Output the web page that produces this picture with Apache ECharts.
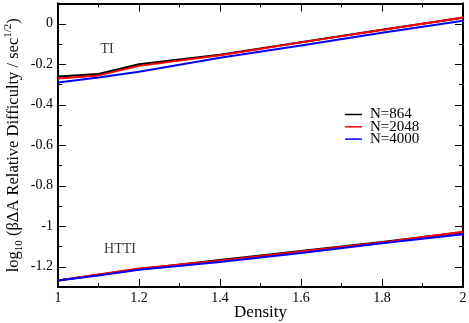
<!DOCTYPE html>
<html><head><meta charset="utf-8">
<script src="https://cdn.jsdelivr.net/npm/echarts@6/dist/echarts.min.js"></script>
<style>html,body{margin:0;padding:0;background:#fff}#c{width:469px;height:323px}</style>
</head><body><div id="c"></div>
<script>
var density = [1.0, 1.1, 1.2, 1.4, 1.6, 1.8, 2.0];
var ti864  = [-0.261, -0.248, -0.200, -0.153, -0.091, -0.030, 0.030];
var ti2048 = [-0.270, -0.255, -0.208, -0.155, -0.092, -0.031, 0.031];
var ti4000 = [-0.290, -0.265, -0.237, -0.168, -0.107, -0.045, 0.015];
var htti864  = [-1.268, -1.240, -1.212, -1.167, -1.122, -1.078, -1.030];
var htti2048 = [-1.268, -1.238, -1.209, -1.170, -1.125, -1.080, -1.027];
var htti4000 = [-1.268, -1.243, -1.215, -1.177, -1.132, -1.084, -1.040];
var seriesNames = ['N=864', 'N=2048', 'N=4000'];
var colors = ['#000000', '#ff0000', '#0000ff'];
var yTicks = [-1.2, -1.0, -0.8, -0.6, -0.4, -0.2, 0];
var yMinor = [-1.3, -1.1, -0.9, -0.7, -0.5, -0.3, -0.1, 0.1];
var xTicks = [1, 1.2, 1.4, 1.6, 1.8, 2];
var annotations = [['TI', 1.121, -0.127], ['HTTI', 1.153, -1.112]];

var font = 'Liberation Serif';
function pairs(ys) { return density.map(function (d, i) { return [d, ys[i]]; }); }
function fmt(v) { var r = Math.round(v * 10) / 10; return r === 0 ? '0' : String(r); }

var grid = { left: 58, right: 6, top: 3.5, bottom: 36, containLabel: false, outerBoundsMode: 'none' };
function yAx(pos, vals, len, labels, name) {
  var a = {
    type: 'value', position: pos, min: -1.3, max: 0.1,
    axisLine: { show: true, onZero: false, lineStyle: { color: '#000', width: 2 } },
    axisTick: { show: true, inside: true, length: len, customValues: vals, lineStyle: { color: '#000', width: 1 } },
    axisLabel: labels ? { show: true, customValues: vals, formatter: fmt, fontFamily: font, fontSize: 14, color: '#000', margin: 5 } : { show: false },
    splitLine: { show: false }
  };
  if (name) {
    a.name = name; a.nameLocation = 'middle'; a.nameGap = 33; a.nameRotate = 90; a.nameMoveOverlap = false;
    a.nameTextStyle = {
      fontFamily: font, fontSize: 16.5, color: '#000',
      rich: {
        a: { fontFamily: font, fontSize: 16.5, color: '#000', lineHeight: 22 },
        sub: { fontFamily: font, fontSize: 11, color: '#000', lineHeight: 22, verticalAlign: 'bottom' },
        sup: { fontFamily: font, fontSize: 11, color: '#000', lineHeight: 22, verticalAlign: 'top' }
      }
    };
  }
  return a;
}
function xAx(pos, labels, name) {
  var a = {
    type: 'value', position: pos, min: 1, max: 2, interval: 0.2,
    axisLine: { show: true, onZero: false, lineStyle: { color: '#000', width: 2 } },
    axisTick: { show: true, inside: true, length: 8, lineStyle: { color: '#000', width: 1 } },
    minorTick: { show: true, splitNumber: 2, length: 4, lineStyle: { color: '#000', width: 1 } },
    axisLabel: labels ? { show: true, formatter: function (v) { return String(Math.round(v * 10) / 10); }, fontFamily: font, fontSize: 14, color: '#000', margin: 4 } : { show: false },
    splitLine: { show: false }
  };
  if (name) {
    a.name = name; a.nameLocation = 'middle'; a.nameGap = 17; a.nameMoveOverlap = false;
    a.nameTextStyle = { fontFamily: font, fontSize: 17, color: '#000' };
  }
  return a;
}

var series = [];
var groups = [[ti864, ti2048, ti4000], [htti864, htti2048, htti4000]];
groups.forEach(function (g) {
  g.forEach(function (ys, k) {
    series.push({
      type: 'line', name: seriesNames[k], data: pairs(ys), xAxisIndex: 0, yAxisIndex: 0,
      symbol: 'none', smooth: false, lineStyle: { color: colors[k], width: 2 }, itemStyle: { color: colors[k] },
      animation: false
    });
  });
});
series.push({
  type: 'scatter', name: 'labels', xAxisIndex: 0, yAxisIndex: 0, symbolSize: 0, silent: true,
  data: annotations.map(function (a) { return { value: [a[1], a[2]], name: a[0] }; }),
  label: { show: true, position: 'inside', formatter: '{b}', fontFamily: font, fontSize: 14, color: '#000' },
  animation: false
});

var chart = echarts.init(document.getElementById('c'), null, { renderer: 'canvas' });
chart.setOption({
  backgroundColor: '#fff',
  animation: false,
  grid: grid,
  legend: {
    data: seriesNames, orient: 'vertical', left: 345, top: 107, padding: 0,
    itemWidth: 17, itemHeight: 1.5, itemGap: -2.7, icon: 'rect',
    textStyle: { fontFamily: font, fontSize: 15, color: '#000', padding: [0, 0, 0, 3] },
    selectedMode: false
  },
  xAxis: [xAx('bottom', true, 'Density'), xAx('top', false)],
  yAxis: [
    yAx('left', yTicks, 8, true, '{a|log}{sub|10}{a| (βΔA Relative Difficulty / sec}{sup|1/2}{a|)}'),
    yAx('left', yMinor, 4, false),
    yAx('right', yTicks, 8, false),
    yAx('right', yMinor, 4, false)
  ],
  series: series
});
</script></body></html>
